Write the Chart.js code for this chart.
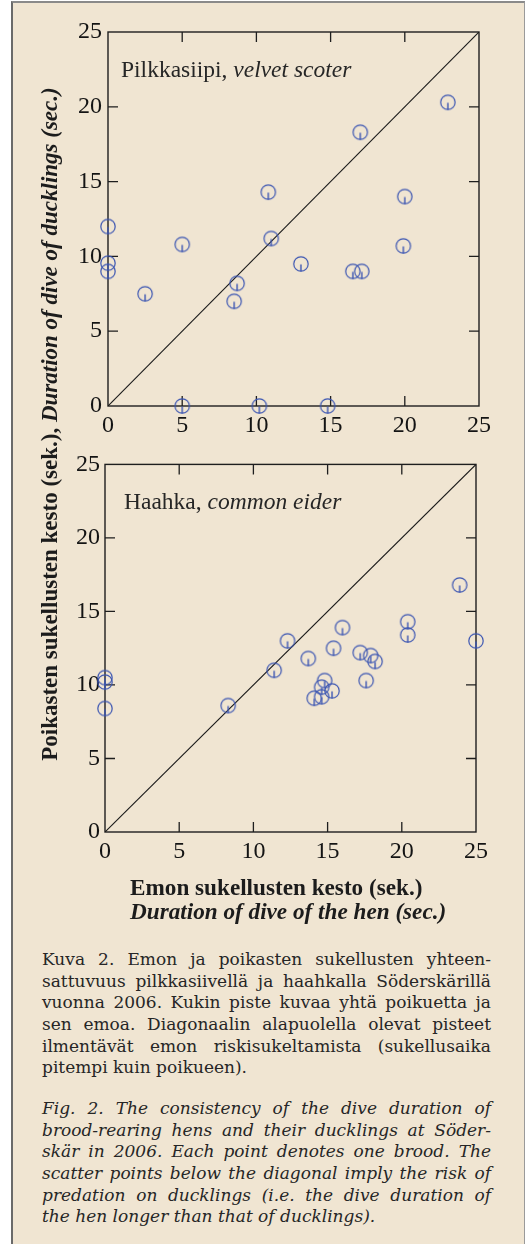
<!DOCTYPE html>
<html>
<head>
<meta charset="utf-8">
<script src="https://cdn.jsdelivr.net/npm/chart.js@4.4.1/dist/chart.umd.min.js"></script>
<style>
  html, body { margin:0; padding:0; background:#ffffff; }
  body { width:527px; height:1244px; position:relative; overflow:hidden; }
  #frame { position:absolute; left:11px; top:1px; width:511px; height:1260px;
           background:#f0e5d2; border-left:2px solid #6a6a6a; border-top:2px solid #8a8a8a; border-right:1px solid #9a9a9a; }
  canvas { position:absolute; left:0; }
  #c1 { top:0; }
  #c2 { top:445px; }
  .t { position:absolute; color:#1c1c1c; white-space:nowrap; }
  .ann { font-family:"Liberation Serif", serif; font-size:23.5px; color:#262626; }
  #ytitle { font-family:"Liberation Serif", serif; font-weight:bold; font-size:23px; line-height:24px;
            width:700px; text-align:center; left:-300px; top:412px; transform:rotate(-90deg); transform-origin:350px 12px; }
  .xt { font-family:"Liberation Serif", serif; font-weight:bold; font-size:23.2px; left:130px; }
  .cap { position:absolute; left:42px; width:449px; font-family:"DejaVu Serif", serif; font-size:17px; line-height:21.7px; color:#262626; }
  .cap div { text-align:justify; text-align-last:justify; white-space:nowrap; height:21.7px; }
  .cap div.last { text-align-last:left; }
  .cap.it { font-style:italic; }
</style>
</head>
<body>
<div id="frame"></div>
<canvas id="c1" width="527" height="445"></canvas>
<canvas id="c2" width="527" height="430"></canvas>

<div class="t ann" style="left:121px; top:56px;">Pilkkasiipi, <i>velvet scoter</i></div>
<div class="t ann" style="left:124px; top:488px;">Haahka, <i>common eider</i></div>
<div class="t" id="ytitle">Poikasten sukellusten kesto (sek.), <i>Duration of dive of ducklings (sec.)</i></div>
<div class="t xt" style="top:874px;">Emon sukellusten kesto (sek.)</div>
<div class="t xt" style="top:898px;"><i>Duration of dive of the hen (sec.)</i></div>

<div class="cap" style="top:949px;">
  <div>Kuva 2. Emon ja poikasten sukellusten yhteen-</div>
  <div>sattuvuus pilkkasiivellä ja haahkalla Söderskärillä</div>
  <div>vuonna 2006. Kukin piste kuvaa yhtä poikuetta ja</div>
  <div>sen emoa. Diagonaalin alapuolella olevat pisteet</div>
  <div>ilmentävät emon riskisukeltamista (sukellusaika</div>
  <div class="last">pitempi kuin poikueen).</div>
</div>
<div class="cap it" style="top:1098px;">
  <div>Fig. 2. The consistency of the dive duration of</div>
  <div>brood-rearing hens and their ducklings at Söder-</div>
  <div>skär in 2006. Each point denotes one brood. The</div>
  <div>scatter points below the diagonal imply the risk of</div>
  <div>predation on ducklings (i.e. the dive duration of</div>
  <div class="last">the hen longer than that of ducklings).</div>
</div>

<script>
// ---- data ----
const tickValues = [0, 5, 10, 15, 20, 25];
const axisMin = 0, axisMax = 25;

const scoterHen  = [22.9, 17.0, 10.8, 20.0, 0, 5.0, 11.0, 19.9, 0, 0, 13.0, 16.5, 17.1, 2.5, 8.7, 8.5, 5.0, 10.2, 14.8];
const scoterDuck = [20.3, 18.3, 14.3, 14.0, 12.0, 10.8, 11.2, 10.7, 9.55, 9.0, 9.5, 9.0, 9.0, 7.5, 8.2, 7.0, 0, 0, 0];

const eiderHen  = [23.9, 20.4, 20.4, 25.0, 12.3, 16.0, 15.4, 13.7, 11.4, 17.2, 17.9, 18.2, 17.6, 14.8, 14.6, 15.3, 14.1, 14.6, 8.3, 0, 0, 0];
const eiderDuck = [16.8, 14.3, 13.4, 13.0, 13.0, 13.9, 12.5, 11.8, 11.0, 12.2, 12.0, 11.6, 10.3, 10.3, 9.85, 9.6, 9.1, 9.2, 8.6, 10.5, 10.2, 8.4];

const diagonalX = [0, 25];
const diagonalY = [0, 25];

// ---- marker: open circle with a stem from centre downwards ----
function makeMarker() {
  const c = document.createElement('canvas');
  c.width = 20; c.height = 20;
  const g = c.getContext('2d');
  g.strokeStyle = '#3b55b2';
  g.lineWidth = 1.2;
  g.beginPath(); g.arc(10, 10, 7.2, 0, Math.PI * 2); g.stroke();
  g.lineWidth = 1.4;
  g.beginPath(); g.moveTo(10, 10.5); g.lineTo(10, 17.5); g.stroke();
  return c;
}
const marker = makeMarker();

const framePlugin = {
  id: 'frameTicks',
  beforeDatasetsDraw(chart) {
    const { ctx, chartArea: a, scales } = chart;
    ctx.save();
    ctx.strokeStyle = '#1e1e1e';
    ctx.lineWidth = 1.4;
    ctx.strokeRect(a.left, a.top, a.right - a.left, a.bottom - a.top);
    ctx.lineWidth = 1.3;
    const L = 10;
    tickValues.forEach(v => {
      if (v === axisMin || v === axisMax) return;
      const px = scales.x.getPixelForValue(v);
      const py = scales.y.getPixelForValue(v);
      ctx.beginPath();
      ctx.moveTo(px, a.bottom); ctx.lineTo(px, a.bottom - L);
      ctx.moveTo(px, a.top); ctx.lineTo(px, a.top + L);
      ctx.moveTo(a.left, py); ctx.lineTo(a.left + L, py);
      ctx.moveTo(a.right, py); ctx.lineTo(a.right - L, py);
      ctx.stroke();
    });
    ctx.restore();
  }
};

function makeChart(id, hen, duck, geom) {
  const pts = hen.map((x, i) => ({ x: x, y: duck[i] }));
  const diag = diagonalX.map((x, i) => ({ x: x, y: diagonalY[i] }));
  const font = { family: '"Liberation Serif", serif', size: 24 };
  return new Chart(document.getElementById(id), {
    type: 'scatter',
    data: {
      datasets: [
        { data: pts, pointStyle: marker, pointRadius: 8, pointHoverRadius: 8, clip: false, order: 0 },
        { type: 'line', data: diag, borderColor: '#1a1a1a', borderWidth: 1.1, pointRadius: 0, fill: false, order: 1 }
      ]
    },
    options: {
      responsive: false,
      animation: false,
      events: [],
      layout: { padding: { top: geom.top, right: geom.right, left: 0, bottom: 0 } },
      plugins: { legend: { display: false }, tooltip: { enabled: false } },
      scales: {
        x: {
          type: 'linear', min: axisMin, max: axisMax,
          afterBuildTicks: s => { s.ticks = tickValues.map(v => ({ value: v })); },
          afterFit: s => { s.height = geom.xh; },
          ticks: { font: font, color: '#141414', padding: geom.xpad, maxRotation: 0 },
          grid: { display: false, drawTicks: false },
          border: { display: false }
        },
        y: {
          type: 'linear', min: axisMin, max: axisMax,
          afterBuildTicks: s => { s.ticks = tickValues.map(v => ({ value: v })); },
          afterFit: s => { s.width = geom.yw; },
          ticks: { font: font, color: '#141414', padding: geom.ypad },
          grid: { display: false, drawTicks: false },
          border: { display: false }
        }
      }
    },
    plugins: [framePlugin]
  });
}

makeChart('c1', scoterHen, scoterDuck, { top: 32, right: 48, xh: 39, yw: 108, xpad: 5, ypad: 6 });
makeChart('c2', eiderHen, eiderDuck, { top: 13, right: 51, xh: 43, yw: 105, xpad: 5, ypad: 5 });
</script>
</body>
</html>
